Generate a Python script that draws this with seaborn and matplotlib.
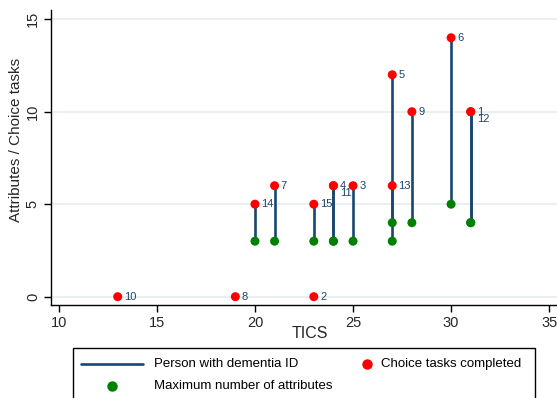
import numpy as np
import pandas as pd
import matplotlib
matplotlib.use("Agg")
import matplotlib.pyplot as plt
import seaborn as sns
from matplotlib.lines import Line2D
from matplotlib.patches import Rectangle

# person ID, TICS score, choice tasks completed, max number of attributes
ids = [10, 8, 2, 14, 7, 15, 4, 11, 3, 5, 13, 9, 6, 1, 12]
tics = [13, 19, 23, 20, 21, 23, 24, 24, 25, 27, 27, 28, 30, 31, 31]
choice = [0, 0, 0, 5, 6, 5, 6, 6, 6, 12, 6, 10, 14, 10, 10]
attrs = [np.nan, np.nan, np.nan, 3, 3, 3, 3, 3, 3, 4, 3, 4, 5, 4, 4]

legend_labels = ["Person with dementia ID", "Maximum number of attributes",
                 "Choice tasks completed"]

df = pd.DataFrame({"id": ids, "tics": tics, "choice": choice, "attrs": attrs})

sns.set_style("white")
plt.rcParams["font.family"] = ["Liberation Sans", "DejaVu Sans"]

navy = "#1a476f"
green = "#008000"
W, H = 557, 398


def fx(x):
    return x / W


def fy(y):
    return 1 - y / H


fig = plt.figure(figsize=(W / 100, H / 100), dpi=100)
ax = fig.add_axes([fx(51), fy(305), 1 - fx(51), (305 - 10) / H])

lines = df.dropna(subset=["attrs"])
ax.vlines(lines["tics"], lines["attrs"], lines["choice"], color=navy, lw=1.9, zorder=2)

sns.scatterplot(data=lines, x="tics", y="attrs", color=green, s=42,
                edgecolor="none", ax=ax, zorder=3)
sns.scatterplot(data=df, x="tics", y="choice", color="red", s=42,
                edgecolor="none", ax=ax, zorder=4)

# ID labels, stacked if the same point is shared
seen = {}
for _, r in df.iterrows():
    key = (r["tics"], r["choice"])
    k = seen.get(key, 0)
    seen[key] = k + 1
    ax.annotate(str(int(r["id"])), (r["tics"], r["choice"]),
                xytext=(4.5, -k * 5.5), textcoords="offset points",
                ha="left", va="center", fontsize=8, color=navy)

ax.set_xlim(9.6, 35.4)
ax.set_ylim(-0.45, 15.5)
ax.set_xticks([10, 15, 20, 25, 30, 35])
ax.set_yticks([0, 5, 10, 15])
ax.yaxis.grid(True, color="#e6eef0", lw=1.2)
ax.set_axisbelow(True)
for s in ["top", "right"]:
    ax.spines[s].set_visible(False)
for s in ["left", "bottom"]:
    ax.spines[s].set_color("black")
    ax.spines[s].set_linewidth(1)
ax.tick_params(axis="both", which="both", direction="out", length=5, width=1,
               color="black", labelsize=10.5, left=True, bottom=True, pad=3)
plt.setp(ax.get_yticklabels(), rotation=90, va="center")
ax.set_xlabel("TICS", fontsize=11.5, va="center")
ax.xaxis.set_label_coords((309.5 - 51) / 506, (305 - 333) / 295)
ax.set_ylabel("Attributes / Choice tasks", fontsize=11, va="center")
ax.yaxis.set_label_coords((16 - 51) / 506, (305 - 140) / 295)

# legend box drawn in figure pixels
fig.add_artist(Rectangle((fx(73), fy(420)), fx(535) - fx(73), fy(348) - fy(420),
                         transform=fig.transFigure, fill=False,
                         edgecolor="black", lw=1))
fig.add_artist(Line2D([fx(81), fx(143)], [fy(364), fy(364)],
                      transform=fig.transFigure, color=navy, lw=1.9))
fig.add_artist(Line2D([fx(112)], [fy(386)], transform=fig.transFigure,
                      marker="o", color=green, ls="none", markersize=6.5))
fig.add_artist(Line2D([fx(367)], [fy(364)], transform=fig.transFigure,
                      marker="o", color="red", ls="none", markersize=6.5))
for (x, y), t in zip([(154, 364), (154, 386), (381, 364)], legend_labels):
    fig.text(fx(x), fy(y), t, ha="left", va="center", fontsize=9.5, color="black")

fig.savefig("out.png", dpi=100)
